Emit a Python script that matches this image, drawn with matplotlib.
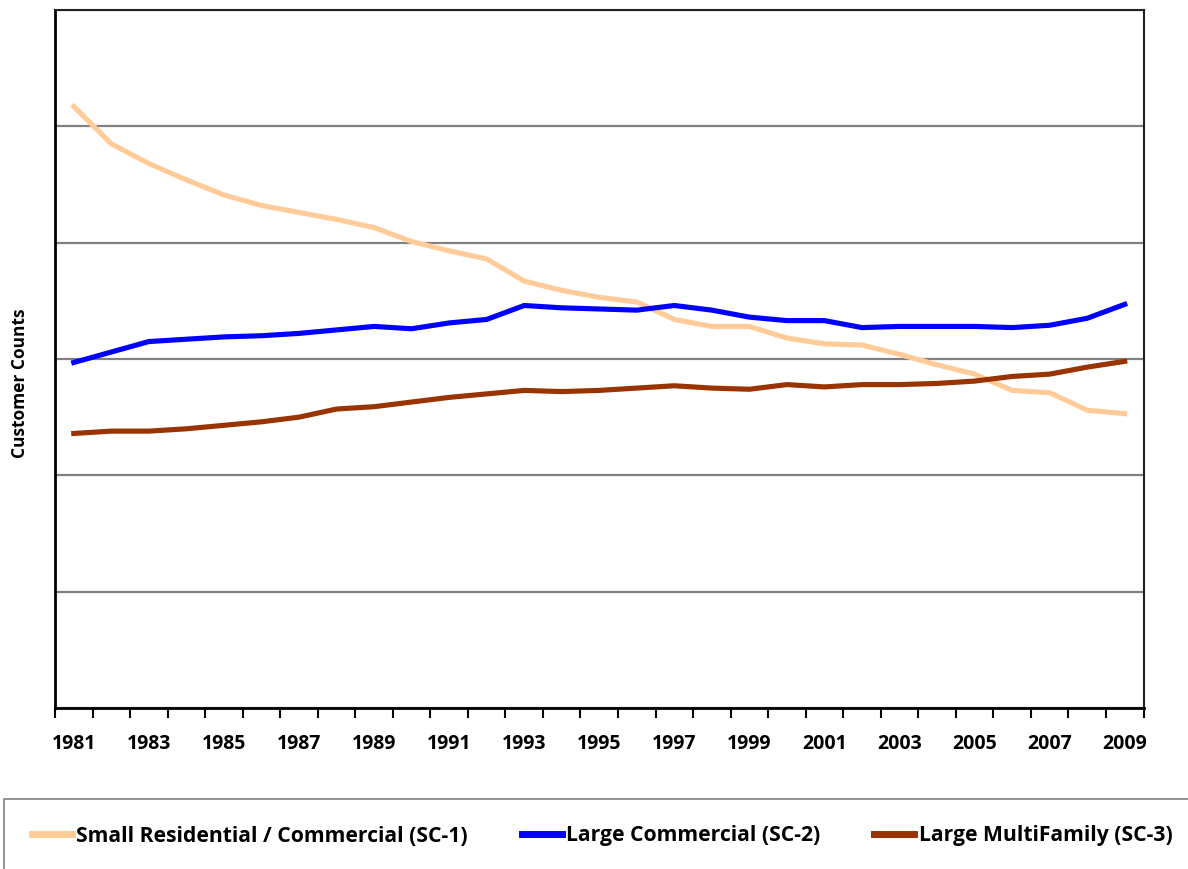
import numpy as np
import matplotlib
matplotlib.use("Agg")
from matplotlib import pyplot as plt
from matplotlib.patches import Rectangle

years = list(range(1981, 2010))

# values, in gridline units (no y tick labels in the original)
sc1 = [5.17, 4.85, 4.68, 4.54, 4.41, 4.32, 4.26, 4.20, 4.13, 4.01,
       3.93, 3.86, 3.67, 3.59, 3.53, 3.49, 3.34, 3.28, 3.28, 3.18,
       3.13, 3.12, 3.04, 2.95, 2.87, 2.73, 2.71, 2.56, 2.53]
sc2 = [2.97, 3.06, 3.15, 3.17, 3.19, 3.20, 3.22, 3.25, 3.28, 3.26,
       3.31, 3.34, 3.46, 3.44, 3.43, 3.42, 3.46, 3.42, 3.36, 3.33,
       3.33, 3.27, 3.28, 3.28, 3.28, 3.27, 3.29, 3.35, 3.47]
sc3 = [2.36, 2.38, 2.38, 2.40, 2.43, 2.46, 2.50, 2.57, 2.59, 2.63,
       2.67, 2.70, 2.73, 2.72, 2.73, 2.75, 2.77, 2.75, 2.74, 2.78,
       2.76, 2.78, 2.78, 2.79, 2.81, 2.85, 2.87, 2.93, 2.98]

labels = ["Small Residential / Commercial (SC-1)",
          "Large Commercial (SC-2)",
          "Large MultiFamily (SC-3)"]
colors = ["#FFCC99", "#0000FF", "#993300"]

plt.rcParams["font.family"] = ["Open Sans", "DejaVu Sans"]

W, H = 1188, 869
fig = plt.figure(figsize=(W / 100, H / 100), dpi=100)
ax = fig.add_axes([55 / W, 1 - 708 / H, (1143.5 - 55) / W, 698 / H])

x = np.arange(len(years))
for ys, c, lab in zip([sc1, sc2, sc3], colors, labels):
    ax.plot(x, ys, color=c, lw=3.7, label=lab, solid_joinstyle="miter")

ax.set_xlim(-0.5, len(years) - 0.5)
ax.set_ylim(0, 6)
ax.set_yticks(np.arange(0, 7))
ax.set_yticklabels([])
ax.tick_params(axis="y", length=0)
ax.yaxis.grid(True, color="#808080", lw=1.6)
ax.set_axisbelow(True)

ax.set_xticks(x[::2])
ax.set_xticklabels([str(y) for y in years[::2]], fontsize=14, fontweight="bold")
ax.set_xticks(np.arange(-0.5, len(years)), minor=True)
ax.tick_params(axis="x", which="major", length=0, pad=19)
ax.tick_params(axis="x", which="minor", length=7, width=1.5, color="black")

for side in ["left", "bottom"]:
    ax.spines[side].set_linewidth(2)
    ax.spines[side].set_color("black")
for side in ["top", "right"]:
    ax.spines[side].set_linewidth(1.5)
    ax.spines[side].set_color("#222222")

fig.text(20 / W, 1 - 383 / H, "Customer Counts", rotation=90,
         ha="center", va="center", fontsize=12.5, fontweight="bold")

# legend frame running off the bottom-right of the image
fig.patches.append(Rectangle((4 / W, -0.05), 1.1, (869 - 799) / H + 0.05,
                             transform=fig.transFigure, fill=False,
                             edgecolor="#808080", lw=1.2))
leg = fig.legend(loc="center left", bbox_to_anchor=(32 / W, 1 - 836 / H),
                 ncol=3, frameon=False, borderaxespad=0, borderpad=0,
                 handlelength=1.9, handletextpad=0.2, columnspacing=2.55,
                 prop={"size": 15.2, "weight": "bold"})
for h in leg.get_lines():
    h.set_linewidth(5)

fig.savefig("out.png", dpi=100)
